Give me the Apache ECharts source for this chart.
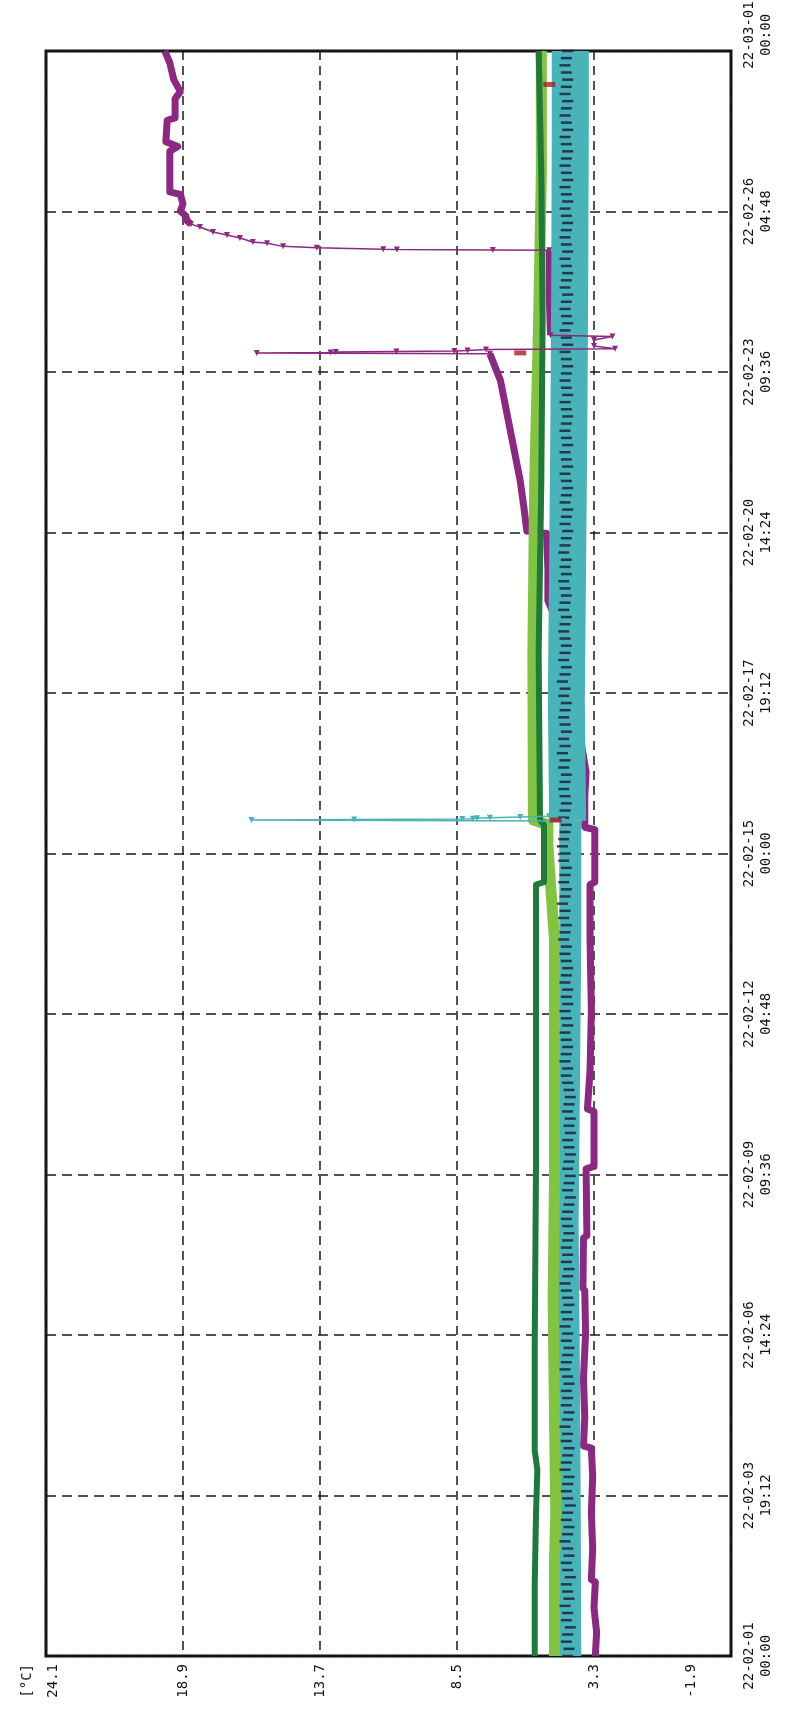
<!DOCTYPE html>
<html><head><meta charset="utf-8">
<script src="https://cdn.jsdelivr.net/npm/echarts@6/dist/echarts.min.js"></script>
<style>html,body{margin:0;padding:0;background:#fff}#c{width:785px;height:1719px}</style>
</head><body><div id="c"></div>
<script>
// ---- axis ticks ----
const tempTicks = [-1.9, 3.3, 8.5, 13.7, 18.9, 24.1];
const tempUnit = '[°C]';
const timeLabels = ['22-02-01\n00:00','22-02-03\n19:12','22-02-06\n14:24','22-02-09\n09:36','22-02-12\n04:48',
  '22-02-15\n00:00','22-02-17\n19:12','22-02-20\n14:24','22-02-23\n09:36','22-02-26\n04:48','22-03-01\n00:00'];
const hourStep = 67.2;   // hours between time ticks (from 22-02-01 00:00)

// ---- series: [hours since 22-02-01 00:00, °C] ----
const purpleBodyA = [[0,3.25],[10,3.2],[20,3.3],[31,3.25],[32,3.4],[45,3.35],[60,3.4],[75,3.35],[87,3.4],[88,3.7],
  [100,3.65],[116,3.7],[135,3.62],[153,3.65],[154,3.72],[175,3.7],[176,3.57],[204,3.6],[205,3.3],[228,3.3],[229,3.55],
  [245,3.45],[270,3.4],[300,3.45],[323,3.45],[324,3.27],[346,3.27],[347,3.65],[360,3.65],[370,3.6],[390,3.9],[410,4.2],
  [430,4.6],[442,5.05],[455,5.05],[470,5.1],[471,5.85],[480,5.95],[492,6.1],[506,6.35],[520,6.6],[534,6.85],[545.2,7.25]];
const purpleSpike = [[545.2,7.25],[545.6,16.1],[545.8,13.3],[546.0,13.1],[546.2,10.8],[546.4,8.6],[546.6,8.1],[547.0,7.4],
  [547.3,2.5],[548.5,3.3],[551,3.3],[552.5,2.6],[553,4.95]];
const purpleBodyB = [[553,4.95],[570,5.0],[588.6,5.0]];
const purpleRise = [[588.6,5.0],[588.7,7.14],[588.9,10.78],[589.0,11.3],[589.6,13.82],[590.2,15.1],[591.5,15.71],
  [592.0,16.25],[593.7,16.74],[595.0,17.23],[596.2,17.76],[598.3,18.26],[599.5,18.6]];
const purpleBodyC = [[599.5,18.6],[601,18.75],[603,18.8],[605,19.0],[608,18.9],[612,19.0],[613,19.4],[630,19.4],[632,19.1],
  [634,19.55],[643,19.5],[644,19.2],[652,19.2],[655,19.0],[657,19.1],[660,19.25],[667,19.4],[671,19.55],[672,19.6]];
const darkGreen = [[0,5.55],[30,5.55],[60,5.5],[78,5.45],[86,5.55],[130,5.55],[207,5.5],[260,5.5],[323,5.5],[324,5.2],
  [348,5.2],[350,5.35],[420,5.4],[492,5.3],[560,5.25],[620,5.3],[672,5.4]];
const lightGreen = [[0,4.8],[40,4.8],[60,4.75],[100,4.8],[150,4.85],[200,4.8],[250,4.8],[300,4.8],[323,4.95],
  [340,5.05],[348,5.05],[350,5.6],[420,5.62],[492,5.55],[560,5.4],[620,5.3],[672,5.3]];
const cyanBandA = [[0,4.2],[60,4.22],[116,4.25],[180,4.3],[241,4.25],[300,4.2],[349.6,4.2]];
const cyanBandB = [[349.6,4.3],[400,4.35],[460,4.3],[520,4.25],[580,4.22],[640,4.2],[672,4.2]];
const cyanSpike = [[349.6,4.5],[350.0,16.3],[350.2,12.4],[350.4,8.3],[350.6,7.9],[350.8,7.74],[351.0,7.25],[351.3,6.1],[351.6,5.0]];
const redMarks = [[350,4.75],[545.6,6.1],[658,5.0]];
const navyStepHours = 3;
const navyTemps = [
 4.30,4.25,4.35,4.30,4.20,4.35,4.30,4.40,4.25,4.30,4.35,4.20,4.30,4.35,4.25,
 4.30,4.40,4.30,4.25,4.35,4.30,4.20,4.30,4.35,4.30,4.25,4.40,4.35,4.30,4.25,
 4.35,4.30,4.40,4.30,4.25,4.35,4.30,4.35,4.25,4.30,4.40,4.35,4.30,4.25,4.35,
 4.30,4.40,4.30,4.35,4.25,4.30,4.35,4.40,4.30,4.25,4.35,4.30,4.35,4.30,4.25,
 4.30,4.35,4.30,4.25,4.20,4.30,4.25,4.20,4.30,4.25,4.20,4.25,4.30,4.20,4.25,
 4.20,4.30,4.25,4.20,4.25,4.30,
 4.35,4.30,4.40,4.35,4.30,4.35,4.40,4.30,4.35,4.40,4.30,4.35,4.30,4.40,4.35,
 4.30,4.35,4.40,4.35,4.45,4.40,4.35,4.45,4.40,4.50,4.40,4.35,4.45,4.40,4.35,
 4.45,4.40,4.50,4.45,4.40,4.35,4.45,4.40,4.35,4.40,4.45,4.40,4.35,4.45,4.40,
 4.50,4.40,4.45,4.35,4.40,4.45,4.40,4.35,4.45,4.40,4.50,4.40,4.35,4.45,4.40,
 4.35,4.40,4.45,4.40,4.35,4.45,4.40,4.35,4.40,4.45,4.35,4.40,4.35,4.45,4.40,
 4.35,4.30,4.40,4.35,4.30,4.40,4.35,4.30,4.35,4.40,4.30,4.35,4.40,4.30,4.35,
 4.40,4.35,4.30,4.35,4.40,4.30,4.35,4.40,4.35,4.30,4.35,4.40,4.30,4.35,4.40,
 4.30,4.35,4.40,4.35,4.30,4.40,4.35,4.30,4.35,4.40,4.30,4.35,4.40,4.35,4.30,
 4.35,4.40,4.30,4.35,4.40,4.30,4.35,4.40,4.35,4.30,4.35,4.40,4.30,4.35,4.40,
 4.35,4.30,4.40,4.35,4.30,4.35,4.40,4.35,4.30];

// ---- colours ----
const C_PURPLE = '#8a2882', C_CYAN = '#48b3b8', C_LGREEN = '#82c341', C_DGREEN = '#1f7a3a', C_RED = '#a81e1e', C_NAVY = '#1a1a36';

const xy = arr => arr.map(p => [p[1], p[0]]);
function body(data, color, width, z) {
  return { type:'line', data: xy(data), symbol:'none', z, silent:true,
    lineStyle:{ color, width, cap:'butt', join:'round' } };
}
function thin(data, color, z, sym, rot) {
  return { type:'line', data: xy(data), symbol: sym, symbolSize: 6, symbolRotate: rot, showSymbol:true, z, silent:true,
    itemStyle:{ color, borderWidth:0 }, lineStyle:{ color, width:1.5 } };
}

const FONT = 'DejaVu Sans Mono';
const chart = echarts.init(document.getElementById('c'), null, { renderer:'canvas' });
chart.setOption({
  animation:false,
  backgroundColor:'#ffffff',
  grid:{ left:46, right:54, top:51, bottom:63, show:true, borderColor:'#111', borderWidth:3,
    containLabel:false, outerBoundsMode:'none' },
  xAxis:{ type:'value', inverse:true, min:tempTicks[0], max:tempTicks[tempTicks.length-1],
    interval: tempTicks[1]-tempTicks[0], position:'bottom',
    axisLine:{ show:false }, axisTick:{ show:false },
    splitLine:{ show:true, lineStyle:{ color:'#1a1a1a', width:1.5, type:[9,6] } },
    axisLabel:{ rotate:90, margin:8, color:'#111', fontFamily:FONT, fontSize:14,
      formatter: v => {
        const s = v.toFixed(1);
        if (Math.abs(v - tempTicks[tempTicks.length-1]) < 0.01) return '{u|' + tempUnit + '}\n{n|' + s + '}';
        if (Math.abs(v - tempTicks[0]) < 0.01) return '{m|' + s + '}';
        return s;
      },
      rich:{ u:{ fontFamily:FONT, fontSize:14, color:'#111', padding:[0,0,12,0] },
             n:{ fontFamily:FONT, fontSize:14, color:'#111', padding:[0,0,12,0] },
             m:{ fontFamily:FONT, fontSize:14, color:'#111', padding:[0,0,80,0] } } } },
  yAxis:{ type:'value', min:0, max:hourStep*(timeLabels.length-1), interval:hourStep, position:'right',
    axisLine:{ show:false }, axisTick:{ show:false },
    splitLine:{ show:true, lineStyle:{ color:'#1a1a1a', width:1.5, type:[10,6] } },
    axisLabel:{ rotate:90, margin:10, color:'#111', fontFamily:FONT, fontSize:14, lineHeight:17,
      formatter: v => {
        const i = Math.round(v / hourStep);
        const lab = timeLabels[i] || '';
        if (i === timeLabels.length-1) return lab.split('\n').map(t => '{t|' + t + '}').join('\n');
        return lab;
      },
      rich:{ t:{ fontFamily:FONT, fontSize:14, color:'#111', lineHeight:17, padding:[0,0,0,32] } } } },
  series:[
    body(purpleBodyA, C_PURPLE, 7, 2),
    body(purpleBodyB, C_PURPLE, 7, 2),
    body(purpleBodyC, C_PURPLE, 7, 2),
    body(cyanBandA, C_CYAN, 22, 3),
    body(cyanBandB, C_CYAN, 37, 3),
    body(lightGreen, C_LGREEN, 11, 4),
    body(darkGreen, C_DGREEN, 6, 5),
    { type:'scatter', z:6, silent:true, symbol:'rect', symbolSize:[11,2.5], itemStyle:{ color:C_NAVY },
      data: navyTemps.map((t,i) => [t, i*navyStepHours]) },
    thin(purpleSpike, C_PURPLE, 7, 'triangle', 180),
    thin(purpleRise, C_PURPLE, 7, 'triangle', 180),
    thin(cyanSpike, C_CYAN, 7, 'triangle', 180),
    { type:'scatter', z:8, silent:true, symbol:'rect', symbolSize:[12,5], itemStyle:{ color:C_RED }, data: xy(redMarks) }
  ]
});
</script></body></html>
